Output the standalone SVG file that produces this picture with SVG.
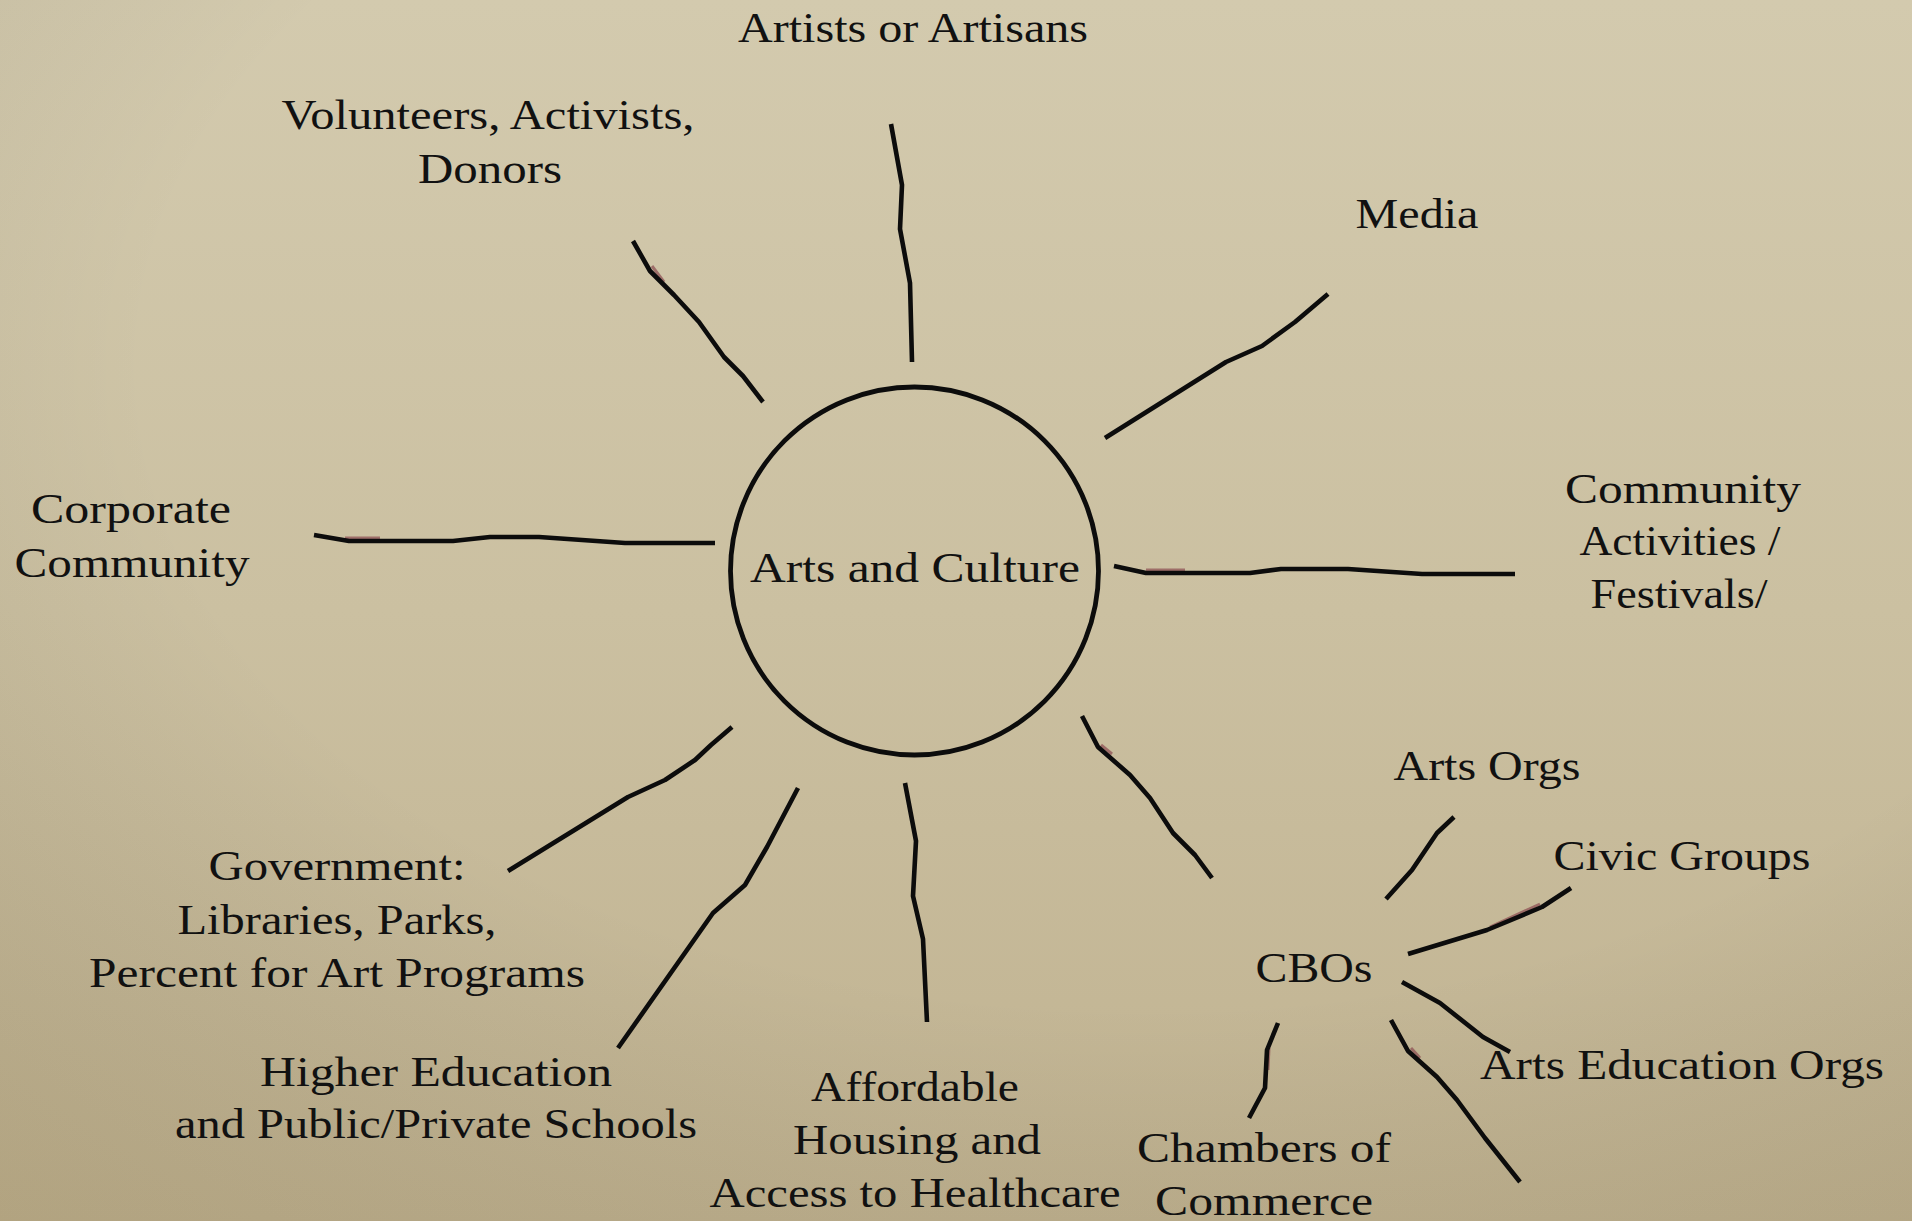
<svg xmlns="http://www.w3.org/2000/svg" width="1912" height="1221" viewBox="0 0 1912 1221">
<defs>
<linearGradient id="bg" x1="0" y1="0" x2="0" y2="1">
<stop offset="0" stop-color="#d3caae"/>
<stop offset="0.5" stop-color="#cbc0a1"/>
<stop offset="1" stop-color="#c0b290"/>
</linearGradient>
<radialGradient id="vig" cx="0.6" cy="0.3" r="0.95">
<stop offset="0.55" stop-color="#000" stop-opacity="0"/>
<stop offset="1" stop-color="#5a4618" stop-opacity="0.14"/>
</radialGradient>
<style>
text{font-family:"Liberation Serif","Times New Roman",serif;font-size:43px;fill:#111;text-anchor:middle}
.ln{fill:none;stroke:#0c0c0c;stroke-width:4.6;stroke-linecap:butt;stroke-linejoin:round}
.sh{fill:none;stroke:#8a4a50;stroke-width:3;stroke-opacity:0.7;stroke-linejoin:round}
.hub{fill:none;stroke:#0c0c0c;stroke-width:4.8}
</style>
</defs>
<rect width="1912" height="1221" fill="url(#bg)"/>
<rect width="1912" height="1221" fill="url(#vig)"/>

<g id="connectors">
<polyline class="sh" points="652,266 664,282"/>
<polyline class="sh" points="345,538 380,538"/>
<polyline class="sh" points="1146,570 1185,570"/>
<polyline class="sh" points="1101,745 1112,754"/>
<polyline class="sh" points="1490,927 1540,904"/>
<polyline class="sh" points="1411,1048 1420,1058"/>
<polyline class="sh" points="1269,1048 1268,1070"/>
<polyline class="ln" points="891,124 902,185 900,229 910,283 912,362"/>
<polyline class="ln" points="633,241 650,271 674,295 699,322 724,357 743,376 763,402"/>
<polyline class="ln" points="1328,294 1295,322 1262,346 1226,362 1105,438"/>
<polyline class="ln" points="314,535 349,541 453,541 490,537 539,537 625,543 715,543"/>
<polyline class="ln" points="1114,566 1146,573 1250,573 1281,569 1348,569 1422,574 1515,574"/>
<polyline class="ln" points="732,727 711,745 695,760 665,780 628,797 508,871"/>
<polyline class="ln" points="798,788 767,847 745,885 713,913 618,1048"/>
<polyline class="ln" points="905,783 916,841 913,896 923,939 927,1022"/>
<polyline class="ln" points="1082,716 1098,747 1130,775 1150,798 1173,833 1195,855 1212,878"/>
<polyline class="ln" points="1454,817 1437,833 1412,870 1386,899"/>
<polyline class="ln" points="1571,888 1542,907 1487,930 1408,954"/>
<polyline class="ln" points="1402,982 1440,1003 1483,1037 1510,1052"/>
<polyline class="ln" points="1278,1023 1267,1050 1265,1088 1249,1118"/>
<polyline class="ln" points="1391,1020 1408,1051 1437,1077 1457,1100 1485,1138 1520,1182"/>
</g>

<g id="node-arts-culture">
<circle class="hub" cx="914.5" cy="571" r="184"/>
<text x="915" y="582" textLength="330" lengthAdjust="spacingAndGlyphs">Arts and Culture</text>
</g>
<g id="node-artists">
<text x="913" y="42" textLength="350" lengthAdjust="spacingAndGlyphs">Artists or Artisans</text>
</g>
<g id="node-volunteers">
<text x="488" y="129" textLength="413" lengthAdjust="spacingAndGlyphs">Volunteers, Activists,</text>
<text x="490" y="183" textLength="144" lengthAdjust="spacingAndGlyphs">Donors</text>
</g>
<g id="node-media">
<text x="1417" y="228" textLength="123" lengthAdjust="spacingAndGlyphs">Media</text>
</g>
<g id="node-corporate">
<text x="131" y="523" textLength="200" lengthAdjust="spacingAndGlyphs">Corporate</text>
<text x="132" y="577" textLength="235" lengthAdjust="spacingAndGlyphs">Community</text>
</g>
<g id="node-community-activities">
<text x="1683" y="503" textLength="236" lengthAdjust="spacingAndGlyphs">Community</text>
<text x="1680" y="555" textLength="201" lengthAdjust="spacingAndGlyphs">Activities /</text>
<text x="1679" y="608" textLength="177" lengthAdjust="spacingAndGlyphs">Festivals/</text>
</g>
<g id="node-government">
<text x="337" y="880" textLength="257" lengthAdjust="spacingAndGlyphs">Government:</text>
<text x="337" y="934" textLength="319" lengthAdjust="spacingAndGlyphs">Libraries, Parks,</text>
<text x="337" y="987" textLength="496" lengthAdjust="spacingAndGlyphs">Percent for Art Programs</text>
</g>
<g id="node-higher-ed">
<text x="436" y="1086" textLength="352" lengthAdjust="spacingAndGlyphs">Higher Education</text>
<text x="436" y="1138" textLength="522" lengthAdjust="spacingAndGlyphs">and Public/Private Schools</text>
</g>
<g id="node-housing">
<text x="915" y="1101" textLength="208" lengthAdjust="spacingAndGlyphs">Affordable</text>
<text x="917" y="1154" textLength="248" lengthAdjust="spacingAndGlyphs">Housing and</text>
<text x="915" y="1207" textLength="411" lengthAdjust="spacingAndGlyphs">Access to Healthcare</text>
</g>
<g id="node-cbos">
<text x="1314" y="982" textLength="117" lengthAdjust="spacingAndGlyphs">CBOs</text>
</g>
<g id="node-arts-orgs">
<text x="1487" y="780" textLength="187" lengthAdjust="spacingAndGlyphs">Arts Orgs</text>
</g>
<g id="node-civic-groups">
<text x="1682" y="870" textLength="257" lengthAdjust="spacingAndGlyphs">Civic Groups</text>
</g>
<g id="node-arts-education">
<text x="1682" y="1079" textLength="404" lengthAdjust="spacingAndGlyphs">Arts Education Orgs</text>
</g>
<g id="node-chambers">
<text x="1264" y="1162" textLength="254" lengthAdjust="spacingAndGlyphs">Chambers of</text>
<text x="1264" y="1215" textLength="218" lengthAdjust="spacingAndGlyphs">Commerce</text>
</g>
</svg>
